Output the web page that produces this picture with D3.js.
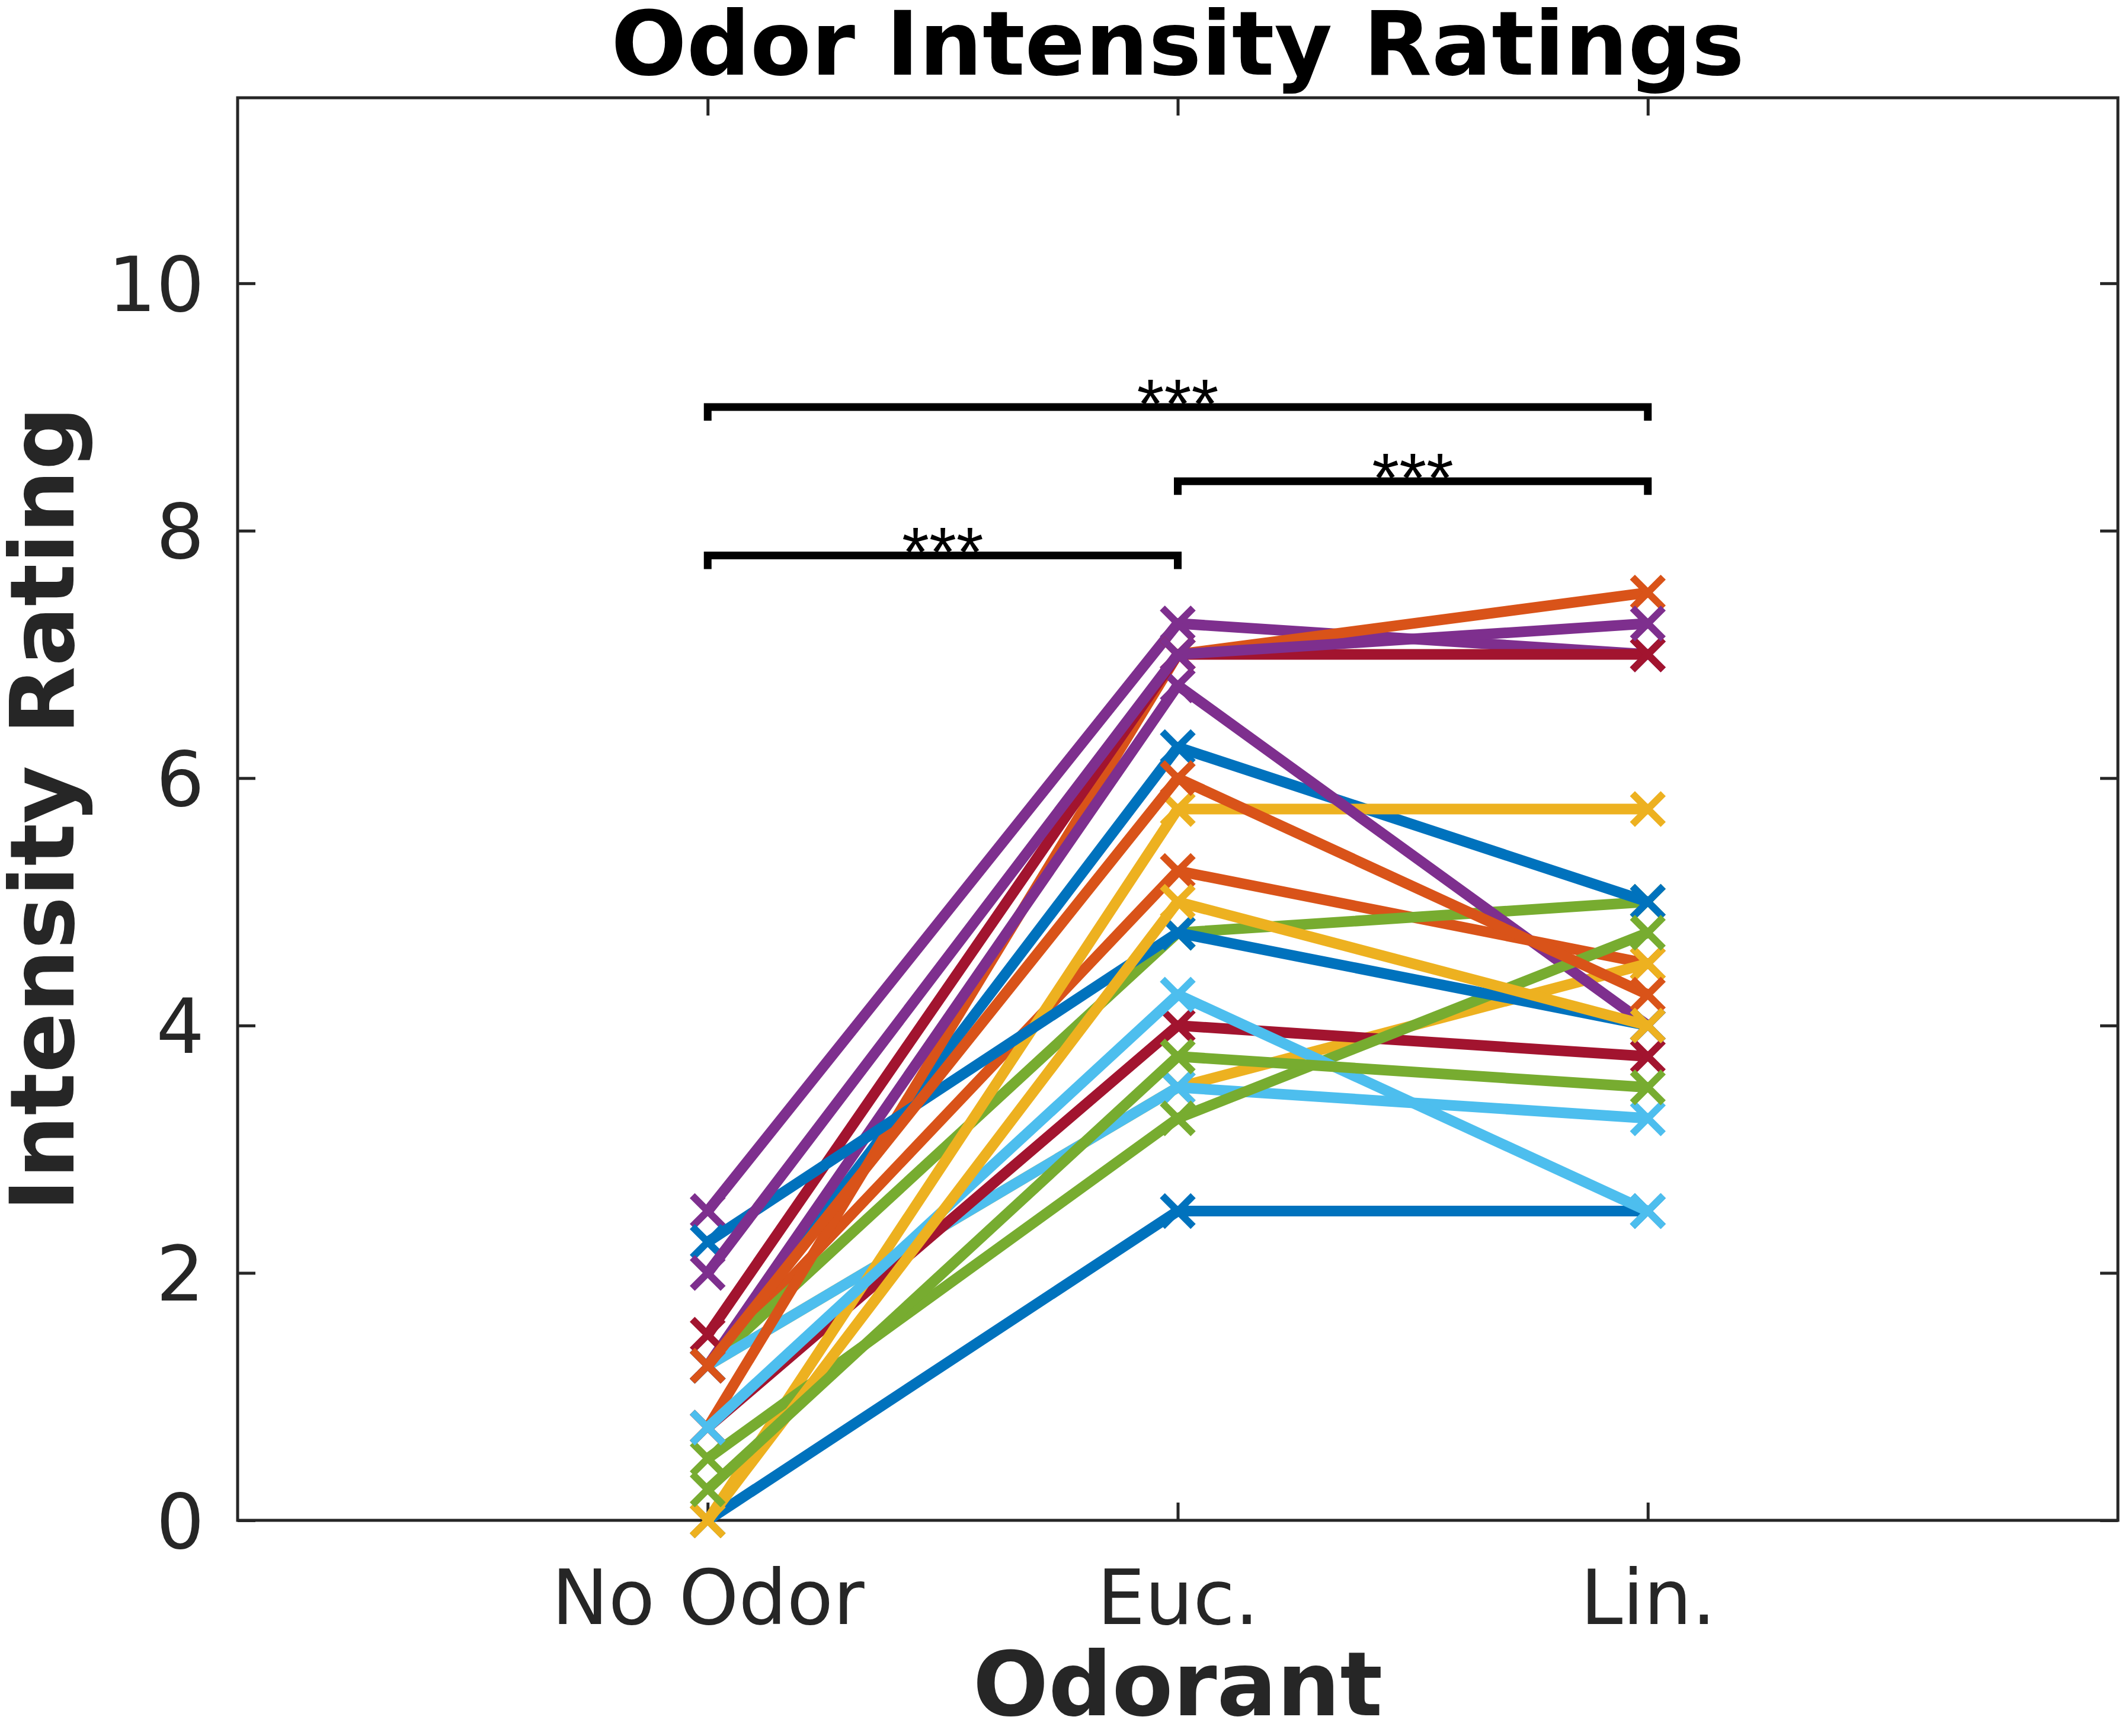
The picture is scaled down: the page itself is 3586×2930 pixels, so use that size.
<!DOCTYPE html>
<html>
<head>
<meta charset="utf-8">
<script src="https://cdn.jsdelivr.net/npm/d3@7"></script>
<style>
  html, body { margin: 0; padding: 0; background: #ffffff; }
  svg { display: block; }
</style>
</head>
<body>
<svg id="chart" width="3586" height="2930"></svg>
<script>
// ---------------- DATA ----------------
const categories = ["No Odor", "Euc.", "Lin."];
// one value per subject (plot order), per condition
const noOdorValues = [0, 1.25, 1.25, 2.5, 1.25, 1.25, 0.75, 1.25, 0.75, 0, 1.25, 0.5, 0.75, 1.5, 2.25, 1.25, 0, 2.0, 0.25];
const eucValues    = [2.5, 5.25, 3.5, 7.25, 4.75, 3.5, 4.0, 6.25, 7.0, 5.75, 6.75, 3.25, 4.25, 7.0, 4.75, 6.0, 5.0, 7.0, 3.75];
const linValues    = [2.5, 4.5, 4.5, 7.0, 5.0, 3.25, 3.75, 5.0, 7.5, 5.75, 4.0, 4.75, 2.5, 7.0, 4.0, 4.25, 4.0, 7.25, 3.5];
const colorOrder = ["#0072BD", "#D95319", "#EDB120", "#7E2F8E", "#77AC30", "#4DBEEE", "#A2142F"];
const yTickValues = [0, 2, 4, 6, 8, 10];
const xTickValues = [1, 2, 3];
// significance brackets
const bracketFrom  = [1, 2, 1];
const bracketTo    = [2, 3, 3];
const bracketLevel = [7.8, 8.4, 9.0];
const bracketLabel = ["***", "***", "***"];

const titleText = "Odor Intensity Ratings";
const xLabelText = "Odorant";
const yLabelText = "Intensity Rating";

// ---------------- LAYOUT ----------------
const W = 3586, H = 2930;
const plotLeft = 401, plotRight = 3574, plotTop = 165, plotBottom = 2566;
const axisColor = "#262626";
const fontMain = "'DejaVu Sans', 'Noto Sans', sans-serif";

const svg = d3.select("#chart");
svg.append("rect").attr("width", W).attr("height", H).attr("fill", "#ffffff");

const x = d3.scaleLinear().domain([0, 4]).range([plotLeft, plotRight]);
const y = d3.scaleLinear().domain([0, 11.5]).range([plotBottom, plotTop]);

// ---------------- AXES ----------------
const tickLen = 30;
const styleAxis = g => {
  g.select(".domain").remove();
  g.selectAll(".tick line").attr("stroke", axisColor).attr("stroke-width", 5);
  g.selectAll(".tick text")
    .attr("fill", axisColor)
    .attr("font-family", fontMain)
    .attr("font-size", 128);
};

svg.append("g")
  .attr("transform", `translate(${plotLeft},0)`)
  .call(d3.axisLeft(y).tickValues(yTickValues).tickSizeInner(-tickLen).tickSizeOuter(0).tickPadding(56).tickFormat(d3.format("d")))
  .call(styleAxis)
  .call(g => g.selectAll(".tick text").attr("dy", "0.36em"));

svg.append("g")
  .attr("transform", `translate(${plotRight},0)`)
  .call(d3.axisRight(y).tickValues(yTickValues).tickSizeInner(-tickLen).tickSizeOuter(0).tickFormat(""))
  .call(styleAxis);

svg.append("g")
  .attr("transform", `translate(0,${plotBottom})`)
  .call(d3.axisBottom(x).tickValues(xTickValues).tickSizeInner(-tickLen).tickSizeOuter(0).tickPadding(84)
        .tickFormat(d => categories[d - 1]))
  .call(styleAxis)
  .call(g => g.selectAll(".tick text").attr("dy", "0.71em"));

svg.append("g")
  .attr("transform", `translate(0,${plotTop})`)
  .call(d3.axisTop(x).tickValues(xTickValues).tickSizeInner(-tickLen).tickSizeOuter(0).tickFormat(""))
  .call(styleAxis);

// box
svg.append("rect")
  .attr("x", plotLeft).attr("y", plotTop)
  .attr("width", plotRight - plotLeft).attr("height", plotBottom - plotTop)
  .attr("fill", "none").attr("stroke", axisColor).attr("stroke-width", 5);

// ---------------- SERIES ----------------
const subjects = noOdorValues.map((v, i) => ({
  values: [v, eucValues[i], linValues[i]],
  color: colorOrder[i % colorOrder.length]
}));

const line = d3.line().x((d, i) => x(xTickValues[i])).y(d => y(d));
const plotG = svg.append("g");
const mk = 26;

subjects.forEach(s => {
  const g = plotG.append("g");
  g.append("path")
    .attr("d", line(s.values))
    .attr("fill", "none")
    .attr("stroke", s.color)
    .attr("stroke-width", 18)
    .attr("stroke-linejoin", "round");
  s.values.forEach((v, i) => {
    const cx = x(xTickValues[i]), cy = y(v);
    g.append("path")
      .attr("d", `M${cx - mk},${cy - mk}L${cx + mk},${cy + mk}M${cx - mk},${cy + mk}L${cx + mk},${cy - mk}`)
      .attr("stroke", s.color)
      .attr("stroke-width", 12)
      .attr("fill", "none");
  });
});

// ---------------- SIGNIFICANCE BRACKETS ----------------
const legDrop = 0.11;
bracketFrom.forEach((f, i) => {
  const x1 = x(f), x2 = x(bracketTo[i]);
  const yb = y(bracketLevel[i]), yl = y(bracketLevel[i] - legDrop);
  svg.append("path")
    .attr("d", `M${x1},${yl}L${x1},${yb}L${x2},${yb}L${x2},${yl}`)
    .attr("fill", "none")
    .attr("stroke", "#000000")
    .attr("stroke-width", 13)
    .attr("stroke-linejoin", "miter");
  svg.append("text")
    .attr("x", (x1 + x2) / 2)
    .attr("y", yb + 36)
    .attr("text-anchor", "middle")
    .attr("font-family", "'Liberation Sans', Arial, sans-serif")
    .attr("font-size", 118)
    .attr("fill", "#000000")
    .text(bracketLabel[i]);
});

// ---------------- LABELS ----------------
svg.append("text")
  .attr("x", (plotLeft + plotRight) / 2)
  .attr("y", 126)
  .attr("text-anchor", "middle")
  .attr("font-family", fontMain)
  .attr("font-weight", "bold")
  .attr("font-size", 150)
  .attr("fill", "#000000")
  .text(titleText);

svg.append("text")
  .attr("x", (plotLeft + plotRight) / 2)
  .attr("y", 2895)
  .attr("text-anchor", "middle")
  .attr("font-family", fontMain)
  .attr("font-weight", "bold")
  .attr("font-size", 150)
  .attr("fill", "#262626")
  .text(xLabelText);

svg.append("text")
  .attr("transform", `translate(124,${(plotTop + plotBottom) / 2}) rotate(-90)`)
  .attr("text-anchor", "middle")
  .attr("font-family", fontMain)
  .attr("font-weight", "bold")
  .attr("font-size", 150)
  .attr("fill", "#262626")
  .text(yLabelText);
</script>
</body>
</html>
